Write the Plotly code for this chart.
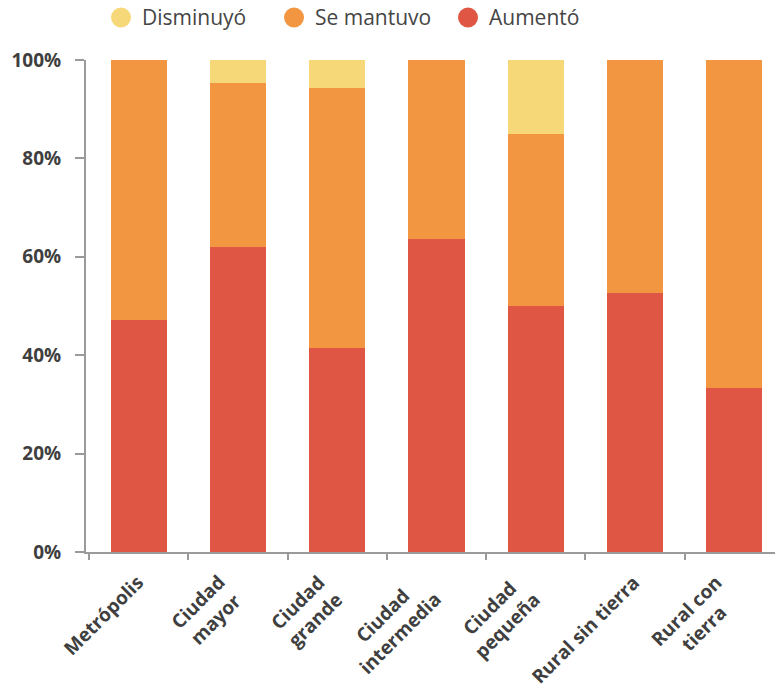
import plotly.graph_objects as go

categories = ["Metrópolis", "Ciudad<br>mayor", "Ciudad<br>grande", "Ciudad<br>intermedia",
              "Ciudad<br>pequeña", "Rural sin tierra", "Rural con<br>tierra"]
aumento = [47.2, 61.9, 41.5, 63.6, 50.0, 52.6, 33.3]
se_mantuvo = [52.8, 33.4, 52.9, 36.4, 35.0, 47.4, 66.7]
disminuyo = [0.0, 4.7, 5.6, 0.0, 15.0, 0.0, 0.0]
y_ticks = [0, 20, 40, 60, 80, 100]
y_tick_text = ["0%", "20%", "40%", "60%", "80%", "100%"]

COL_AUM = "#DF5645"
COL_MAN = "#F39642"
COL_DIS = "#F7D878"
TXT = "#3f3f3f"
AXIS = "#9a9a9a"
FONT = "Open Sans"

W, H = 775, 692
ML, MR, MT, MB = 86, 0, 60, 140
PW, PH = W - ML - MR, H - MT - MB


def px_to_paper(xp, yp):
    return (xp - ML) / PW, (H - MB - yp) / PH


idx = list(range(len(categories)))

fig = go.Figure()
for name, vals, col in [("Aumentó", aumento, COL_AUM),
                        ("Se mantuvo", se_mantuvo, COL_MAN),
                        ("Disminuyó", disminuyo, COL_DIS)]:
    fig.add_trace(go.Bar(x=idx, y=vals, name=name, marker_color=col,
                         marker_line_width=0, showlegend=False))

# legend row: circular keys with labels
legend_items = [("Disminuyó", COL_DIS, 121, 140),
                ("Se mantuvo", COL_MAN, 294, 313),
                ("Aumentó", COL_AUM, 468, 487)]
for name, col, cx, tx in legend_items:
    px, py = px_to_paper(cx, 17.5)
    fig.add_shape(type="circle", xref="paper", yref="paper",
                  xsizemode="pixel", ysizemode="pixel", xanchor=px, yanchor=py,
                  x0=-10, x1=10, y0=-10, y1=10, fillcolor=col, line_width=0)
    tx_p, ty_p = px_to_paper(tx, 17.5)
    fig.add_annotation(x=tx_p, y=ty_p, xref="paper", yref="paper", text=name,
                       showarrow=False, xanchor="left", yanchor="middle",
                       font=dict(family=FONT, size=21, color="#454545"))

# rotated category labels
for i, lab in enumerate(categories):
    fig.add_annotation(x=i, y=0, xref="x", yref="paper", text=lab, showarrow=False,
                       textangle=-45, xanchor="right", yanchor="top", align="center",
                       xshift=12, yshift=-16, borderpad=0,
                       font=dict(family=FONT, size=19, color=TXT, weight="bold"))

fig.update_layout(
    width=W, height=H,
    margin=dict(l=ML, r=MR, t=MT, b=MB),
    paper_bgcolor="white", plot_bgcolor="white",
    barmode="stack", bargap=0.435,
    font=dict(family=FONT, color=TXT),
    showlegend=False,
    xaxis=dict(range=[-0.53, 6.41], tickvals=[i - 0.5 for i in range(7)],
               ticktext=[""] * 7, ticks="outside", ticklen=6, tickwidth=2,
               tickcolor=AXIS, showline=True, linecolor=AXIS, linewidth=2,
               showgrid=False, zeroline=False),
    yaxis=dict(range=[0, 100], tickvals=y_ticks, ticktext=y_tick_text,
               ticks="outside", ticklen=9, tickwidth=2, tickcolor=AXIS,
               showline=True, linecolor=AXIS, linewidth=2, showgrid=False,
               zeroline=False, ticklabelstandoff=10,
               tickfont=dict(family=FONT, size=19, color=TXT, weight="bold")),
)

fig.write_html("out.html")
